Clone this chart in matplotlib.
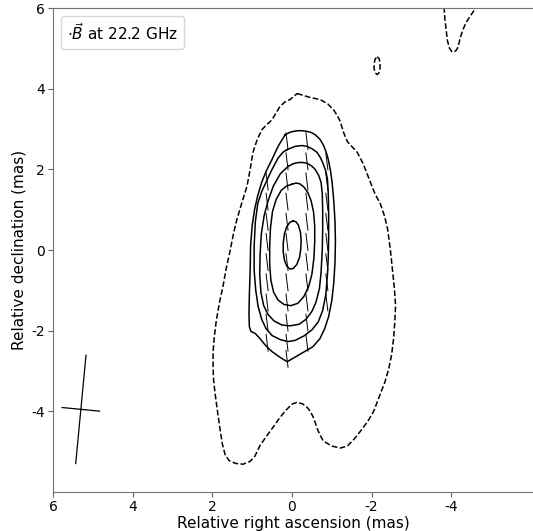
import numpy as np
import matplotlib
matplotlib.use("Agg")
import matplotlib.pyplot as plt
from matplotlib.lines import Line2D

plt.rcParams['axes.unicode_minus'] = False

# total intensity contours traced from the map (RA offset, Dec offset) in mas
# solid levels, outermost first
cont_solid_0 = [(0.17, 2.86), (0.05, 2.92), (-0.08, 2.95), (-0.20, 2.96), (-0.33, 2.95),
                (-0.47, 2.92), (-0.58, 2.86), (-0.70, 2.75), (-0.79, 2.60), (-0.86, 2.42),
                (-0.91, 2.25), (-0.97, 1.95), (-1.01, 1.65), (-1.05, 1.20), (-1.08, 0.70),
                (-1.09, 0.20), (-1.08, -0.30), (-1.05, -0.80), (-1.00, -1.25), (-0.92, -1.65),
                (-0.82, -1.95), (-0.70, -2.20), (-0.52, -2.40), (-0.26, -2.55), (0.00, -2.70),
                (0.12, -2.77), (0.30, -2.66), (0.50, -2.52), (0.66, -2.37), (0.80, -2.20),
                (0.92, -2.07), (1.03, -2.02), (1.07, -1.90), (1.08, -1.60), (1.07, -1.10),
                (1.05, -0.50), (1.04, 0.10), (1.00, 0.60), (0.94, 1.00), (0.86, 1.35),
                (0.76, 1.68), (0.65, 1.95), (0.50, 2.25), (0.35, 2.57)]
cont_solid_1 = [(0.12, 2.49), (-0.08, 2.57), (-0.25, 2.59), (-0.38, 2.57), (-0.52, 2.50),
                (-0.63, 2.42), (-0.72, 2.28), (-0.79, 2.12), (-0.85, 1.95), (-0.89, 1.75),
                (-0.91, 1.40), (-0.92, 0.90), (-0.92, 0.30), (-0.91, -0.20), (-0.89, -0.60),
                (-0.85, -1.10), (-0.77, -1.50), (-0.66, -1.78), (-0.50, -1.98), (-0.30, -2.13),
                (-0.08, -2.24), (0.10, -2.27), (0.30, -2.22), (0.50, -2.12), (0.65, -1.95),
                (0.76, -1.72), (0.85, -1.40), (0.91, -1.00), (0.95, -0.50), (0.95, 0.10),
                (0.92, 0.70), (0.86, 1.15), (0.76, 1.45), (0.62, 1.75), (0.50, 2.00),
                (0.35, 2.28), (0.22, 2.43)]
cont_solid_2 = [(0.10, 2.07), (-0.03, 2.14), (-0.16, 2.17), (-0.28, 2.17), (-0.38, 2.15),
                (-0.50, 2.08), (-0.58, 2.00), (-0.67, 1.85), (-0.73, 1.68), (-0.76, 1.40),
                (-0.77, 1.00), (-0.77, 0.50), (-0.76, 0.00), (-0.73, -0.55), (-0.69, -0.95),
                (-0.60, -1.30), (-0.50, -1.52), (-0.35, -1.72), (-0.18, -1.84), (0.05, -1.88),
                (0.25, -1.86), (0.45, -1.76), (0.60, -1.60), (0.71, -1.38), (0.78, -1.05),
                (0.81, -0.60), (0.80, -0.10), (0.77, 0.40), (0.70, 0.85), (0.60, 1.22),
                (0.47, 1.58), (0.30, 1.88), (0.20, 1.98)]
cont_solid_3 = [(0.00, 1.63), (-0.10, 1.66), (-0.20, 1.64), (-0.30, 1.56), (-0.40, 1.42),
                (-0.48, 1.22), (-0.54, 0.95), (-0.57, 0.60), (-0.57, 0.20), (-0.55, -0.20),
                (-0.50, -0.60), (-0.42, -0.90), (-0.30, -1.15), (-0.15, -1.32), (0.03, -1.38),
                (0.20, -1.35), (0.35, -1.24), (0.46, -1.05), (0.53, -0.75), (0.56, -0.35),
                (0.56, 0.10), (0.54, 0.55), (0.49, 0.95), (0.40, 1.25), (0.27, 1.48),
                (0.13, 1.59)]
cont_solid_4 = [(-0.03, 0.72), (-0.10, 0.70), (-0.16, 0.62), (-0.21, 0.45), (-0.23, 0.25),
                (-0.22, 0.02), (-0.19, -0.18), (-0.12, -0.36), (-0.03, -0.46), (0.05, -0.47),
                (0.13, -0.40), (0.19, -0.25), (0.22, -0.05), (0.22, 0.18), (0.19, 0.40),
                (0.13, 0.58), (0.05, 0.69)]

# lowest (dashed) contour
cont_dashed_main = [(-0.13, 3.88), (-0.46, 3.78), (-0.71, 3.73), (-0.90, 3.62), (-1.04, 3.48),
                    (-1.14, 3.33), (-1.21, 3.19), (-1.30, 2.90), (-1.39, 2.69), (-1.50, 2.57),
                    (-1.64, 2.42), (-1.78, 2.15), (-1.89, 1.88), (-2.00, 1.60), (-2.09, 1.38),
                    (-2.22, 1.14), (-2.32, 0.85), (-2.40, 0.52), (-2.47, 0.00), (-2.52, -0.47),
                    (-2.57, -0.95), (-2.60, -1.38), (-2.58, -1.80), (-2.55, -2.20), (-2.50, -2.60),
                    (-2.43, -2.94), (-2.33, -3.28), (-2.22, -3.56), (-2.05, -4.00), (-1.90, -4.25),
                    (-1.72, -4.49), (-1.55, -4.70), (-1.39, -4.86), (-1.21, -4.91), (-1.00, -4.86),
                    (-0.79, -4.74), (-0.70, -4.58), (-0.63, -4.42), (-0.55, -4.18), (-0.46, -4.00),
                    (-0.38, -3.90), (-0.26, -3.81), (-0.12, -3.78), (0.00, -3.82), (0.15, -3.97),
                    (0.30, -4.15), (0.45, -4.36), (0.62, -4.59), (0.80, -4.84), (0.93, -5.11),
                    (1.05, -5.24), (1.23, -5.31), (1.42, -5.29), (1.58, -5.22), (1.68, -5.07),
                    (1.75, -4.80), (1.81, -4.42), (1.87, -4.00), (1.93, -3.56), (1.97, -3.20),
                    (1.98, -2.94), (1.98, -2.52), (1.95, -2.15), (1.90, -1.75), (1.82, -1.30),
                    (1.73, -0.89), (1.65, -0.45), (1.56, -0.05), (1.47, 0.40), (1.38, 0.77),
                    (1.25, 1.20), (1.13, 1.58), (1.05, 2.00), (0.98, 2.42), (0.87, 2.75),
                    (0.75, 2.99), (0.62, 3.12), (0.50, 3.23), (0.40, 3.40), (0.30, 3.56),
                    (0.18, 3.67), (0.05, 3.73)]
cont_dashed_top = [(-3.80, 6.3), (-3.82, 6.0), (-3.84, 5.70), (-3.87, 5.46), (-3.90, 5.20),
                   (-3.95, 5.01), (-4.01, 4.92), (-4.07, 4.91), (-4.13, 4.96), (-4.17, 5.04),
                   (-4.22, 5.25), (-4.29, 5.46), (-4.36, 5.62), (-4.44, 5.75), (-4.53, 5.88),
                   (-4.61, 6.0), (-4.70, 6.3)]
cont_dashed_blob = [(-2.14, 4.79), (-2.19, 4.74), (-2.21, 4.62), (-2.21, 4.50), (-2.18, 4.39),
                    (-2.14, 4.35), (-2.09, 4.39), (-2.06, 4.50), (-2.06, 4.62), (-2.09, 4.74)]

# polarisation (B-field) vectors: column RA offsets and Dec offsets of each tick
pol_columns = [0.625, 0.125, -0.375, -0.875]
pol_rows = [
    [1.7, 1.2, 0.7, 0.2, -0.3, -0.8, -1.3, -1.8, -2.3],
    [2.7, 2.2, 1.7, 1.2, 0.7, 0.2, -0.3, -0.8, -1.3, -1.8, -2.3, -2.7],
    [2.7, 2.2, 1.7, 1.2, 0.7, 0.2, -0.3, -0.8, -1.3, -1.8, -2.3],
    [2.2, 1.7, 1.2, 0.7, 0.2, -0.3, -0.8, -1.3],
]
pol_angle = 7.0    # deg, east of north
pol_length = 0.42  # mas

# restoring beam
beam_center = (5.3, -3.95)
beam_major = 2.7
beam_minor = 0.94
beam_pa = -5.5

label = r'$\cdot\vec{B}$ at 22.2 GHz'

fig = plt.figure(figsize=(5.33, 5.31), dpi=100)
ax = fig.add_axes([0.0994, 0.0734, 0.9006, 0.9115])


def draw_closed(pts, style):
    xs = [p[0] for p in pts] + [pts[0][0]]
    ys = [p[1] for p in pts] + [pts[0][1]]
    ax.plot(xs, ys, style, color='black', lw=1.1, solid_joinstyle='round')


for c in [cont_solid_0, cont_solid_1, cont_solid_2, cont_solid_3, cont_solid_4]:
    draw_closed(c, '-')
draw_closed(cont_dashed_main, '--')
draw_closed(cont_dashed_blob, '--')
ax.plot([p[0] for p in cont_dashed_top], [p[1] for p in cont_dashed_top], '--',
        color='black', lw=1.1)

# B vectors
th = np.deg2rad(pol_angle)
for cx, rows in zip(pol_columns, pol_rows):
    for cy in rows:
        dx = 0.5 * pol_length * np.sin(th)
        dy = 0.5 * pol_length * np.cos(th)
        ax.plot([cx - dx, cx + dx], [cy - dy, cy + dy], color='black', lw=0.7)

# beam cross
pa = np.deg2rad(beam_pa)
bx, by = beam_center
ax.plot([bx - 0.5 * beam_major * np.sin(pa), bx + 0.5 * beam_major * np.sin(pa)],
        [by - 0.5 * beam_major * np.cos(pa), by + 0.5 * beam_major * np.cos(pa)],
        color='black', lw=0.9)
ax.plot([bx - 0.5 * beam_minor * np.cos(pa), bx + 0.5 * beam_minor * np.cos(pa)],
        [by + 0.5 * beam_minor * np.sin(pa), by - 0.5 * beam_minor * np.sin(pa)],
        color='black', lw=0.9)

ax.set_xlim(6, -6.05)
ax.set_ylim(-6, 6)
ax.set_xticks([6, 4, 2, 0, -2, -4])
ax.set_yticks([6, 4, 2, 0, -2, -4])
ax.set_xlabel('Relative right ascension (mas)', fontsize=11, labelpad=1)
ax.set_ylabel('Relative declination (mas)', fontsize=11, labelpad=3)
ax.tick_params(labelsize=10, color='0.4', length=3.5, pad=2.5)
ax.spines['right'].set_visible(False)
for s in ['left', 'top', 'bottom']:
    ax.spines[s].set_color('0.45')

ax.legend([Line2D([], [], linestyle='none')], [label], loc='upper left',
          handlelength=0, handletextpad=0, fontsize=11)

fig.savefig('out.png', dpi=100)
